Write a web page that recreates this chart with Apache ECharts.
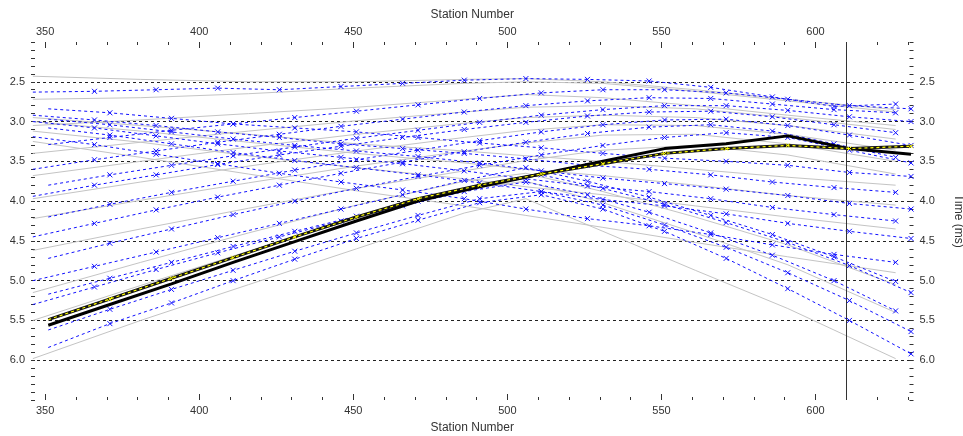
<!DOCTYPE html>
<html><head><meta charset="utf-8">
<script src="https://cdn.jsdelivr.net/npm/echarts@6/dist/echarts.min.js"></script>
<style>html,body{margin:0;padding:0;background:#fff}#c{width:963px;height:436px}</style>
</head><body><div id="c"></div>
<script>
// ---- axis values ----
const xMin = 345.4, xMax = 631.8;
const xMajorTicks = [350, 400, 450, 500, 550, 600];
const xMinorTicks = [350,360,370,380,390,400,410,420,430,440,450,460,470,480,490,500,510,520,530,540,550,560,570,580,590,600,610,620,630];
const yMin = 2.0, yMax = 6.5, yStep = 0.5;
const markerStation = 610;

// ---- station sets ----
const stationsA = [346,366,386,406,426,446,466,486,506,526,546,566,586,606,626];
const stationsB = [351,371,391,411,431,451,471,491,511,531,551,571,591,611,631];
const stationsG = [346,381,416,451,486,506,531,561,591,626];

// ---- picked (blue, dashed with x) times, ms ----
const blue01 = [2.63,2.62,2.60,2.58,2.60,2.56,2.52,2.48,2.46,2.47,2.49,2.57,2.69,2.81,2.78];
const blue02 = [3.29,3.20,3.11,3.03,2.95,2.87,2.79,2.71,2.64,2.60,2.60,2.64,2.72,2.80,2.84];
const blue03 = [3.60,3.48,3.37,3.26,3.16,3.06,2.97,2.88,2.80,2.74,2.70,2.71,2.78,2.85,2.89];
const blue04 = [3.80,3.67,3.55,3.43,3.32,3.21,3.11,3.01,2.92,2.85,2.80,2.80,2.86,2.94,3.00];
const blue05 = [3.94,3.80,3.67,3.54,3.42,3.31,3.20,3.10,3.01,2.93,2.88,2.87,2.94,3.04,3.14];
const blue06 = [4.20,4.04,3.89,3.75,3.61,3.48,3.36,3.24,3.13,3.04,2.98,2.97,3.05,3.17,3.30];
const blue07 = [4.45,4.28,4.11,3.95,3.80,3.65,3.51,3.38,3.26,3.15,3.07,3.04,3.12,3.28,3.45];
const blue08 = [4.72,4.53,4.35,4.17,4.00,3.84,3.69,3.55,3.42,3.30,3.20,3.14,3.20,3.36,3.52];
const blue09 = [2.84,2.89,2.96,3.03,3.08,3.13,3.20,3.27,3.33,3.40,3.46,3.50,3.55,3.64,3.69];
const blue10 = [2.92,2.98,3.05,3.13,3.20,3.28,3.34,3.40,3.47,3.55,3.60,3.67,3.76,3.83,3.89];
const blue11 = [2.97,3.04,3.13,3.22,3.30,3.37,3.44,3.52,3.62,3.71,3.78,3.85,3.93,4.03,4.10];
const blue12 = [3.00,3.08,3.18,3.28,3.37,3.45,3.53,3.62,3.72,3.81,3.88,3.97,4.08,4.17,4.25];
const blue13 = [3.08,3.17,3.28,3.39,3.49,3.58,3.67,3.77,3.88,3.98,4.06,4.16,4.28,4.38,4.47];
const blue14 = [3.19,3.29,3.41,3.53,3.65,3.76,3.86,3.97,4.10,4.22,4.31,4.42,4.55,4.67,4.77];
const blue15 = [5.00,4.82,4.64,4.46,4.28,4.10,3.92,3.74,3.58,3.75,3.95,4.18,4.42,4.70,5.01];
const blue16 = [5.17,4.97,4.77,4.57,4.38,4.19,4.00,3.82,3.67,3.84,4.04,4.27,4.52,4.81,5.15];
const blue17 = [5.30,5.08,4.86,4.65,4.45,4.25,4.06,3.88,3.76,3.92,4.14,4.40,4.68,5.00,5.38];
const blue18 = [5.62,5.36,5.11,4.87,4.63,4.40,4.18,3.97,3.88,4.05,4.30,4.58,4.90,5.25,5.64];
const blue19 = [5.84,5.54,5.28,5.00,4.73,4.47,4.24,4.02,3.92,4.10,4.38,4.72,5.10,5.50,5.92];

// ---- modelled (grey) times, ms ----
const grey01 = [2.43,2.47,2.50,2.50,2.47,2.46,2.50,2.60,2.72,2.85];
const grey02 = [2.72,2.70,2.65,2.58,2.52,2.50,2.52,2.62,2.74,2.88];
const grey03 = [3.05,2.98,2.90,2.82,2.72,2.66,2.70,2.80,2.92,3.05];
const grey04 = [3.40,3.26,3.12,2.99,2.88,2.82,2.80,2.84,2.95,3.10];
const grey05 = [3.68,3.50,3.32,3.16,3.02,2.95,2.92,2.95,3.05,3.22];
const grey06 = [3.97,3.76,3.56,3.37,3.20,3.11,3.04,3.05,3.16,3.36];
const grey07 = [4.22,3.99,3.77,3.56,3.37,3.27,3.17,3.16,3.28,3.50];
const grey08 = [4.62,4.35,4.09,3.84,3.62,3.49,3.36,3.30,3.42,3.66];
const grey09 = [2.95,3.05,3.16,3.28,3.37,3.43,3.50,3.60,3.70,3.80];
const grey10 = [3.00,3.12,3.26,3.40,3.52,3.60,3.68,3.80,3.93,4.05];
const grey11 = [3.12,3.26,3.43,3.58,3.72,3.82,3.92,4.06,4.20,4.35];
const grey12 = [3.25,3.45,3.66,3.87,4.06,4.18,4.33,4.52,4.70,4.90];
const grey13 = [5.15,4.77,4.40,4.05,3.75,3.65,3.88,4.20,4.55,5.05];
const grey14 = [5.50,5.06,4.63,4.22,3.85,3.75,4.02,4.40,4.80,5.40];
const grey15 = [5.98,5.50,5.05,4.60,4.15,3.97,4.38,4.87,5.35,5.98];

// ---- highlighted shot ----
const modelTimes = [5.56,5.30,5.04,4.77,4.51,4.25,4.00,3.82,3.66,3.50,3.34,3.28,3.18,3.34,3.41];
const pickTimes  = [5.49,5.23,4.97,4.71,4.45,4.20,3.97,3.80,3.66,3.53,3.40,3.34,3.30,3.34,3.31];

const blueLines = [
  [stationsA, blue01],[stationsB, blue02],[stationsA, blue03],[stationsB, blue04],[stationsA, blue05],
  [stationsB, blue06],[stationsA, blue07],[stationsB, blue08],[stationsB, blue09],[stationsA, blue10],
  [stationsB, blue11],[stationsA, blue12],[stationsB, blue13],[stationsA, blue14],[stationsA, blue15],
  [stationsB, blue16],[stationsA, blue17],[stationsB, blue18],[stationsB, blue19]
];
const greyLines = [grey01,grey02,grey03,grey04,grey05,grey06,grey07,grey08,grey09,grey10,grey11,grey12,grey13,grey14,grey15];

const X = 'path://M0,0L10,10M10,0L0,10';
const FONT = 'Liberation Sans';
const series = [];

greyLines.forEach(t => {
  series.push({
    type: 'line', silent: true, animation: false, symbol: 'none', z: 2,
    data: stationsG.map((s, i) => [s, t[i]]),
    lineStyle: { color: '#c4c4c4', width: 1 }
  });
});

blueLines.forEach(([st, t]) => {
  series.push({
    type: 'line', silent: true, animation: false, z: 3,
    symbol: X, symbolSize: 5,
    itemStyle: { color: 'transparent', borderColor: '#1010ff', borderWidth: 1 },
    data: st.map((s, i) => i === 0 ? { value: [s, t[i]], symbol: 'none' } : [s, t[i]]),
    lineStyle: { color: '#1010ff', width: 1, type: [3, 3] }
  });
});

series.push({
  type: 'line', silent: true, animation: false, symbol: 'none', z: 4,
  data: stationsB.map((s, i) => [s, modelTimes[i]]),
  lineStyle: { color: '#000', width: 3 }
});
series.push({
  type: 'line', silent: true, animation: false, symbol: 'none', z: 4,
  data: stationsB.map((s, i) => [s, pickTimes[i]]),
  lineStyle: { color: '#111', width: 3 }
});
series.push({
  type: 'line', silent: true, animation: false, z: 5,
  symbol: X, symbolSize: 4,
  itemStyle: { color: 'transparent', borderColor: '#ffff00', borderWidth: 1 },
  data: stationsB.map((s, i) => i === 0 ? { value: [s, pickTimes[i]], symbol: 'none' } : [s, pickTimes[i]]),
  lineStyle: { color: '#ffff00', width: 1.2, type: [3, 3] },
  markLine: {
    silent: true, symbol: 'none', animation: false,
    label: { show: false },
    lineStyle: { color: '#333', type: 'solid', width: 1 },
    data: [{ xAxis: markerStation }]
  }
});

function xAx(pos, ticks, len, withLabel) {
  return {
    type: 'value', position: pos, min: xMin, max: xMax,
    axisLine: { show: false },
    axisTick: { show: true, inside: true, length: len, customValues: ticks, lineStyle: { color: '#333' } },
    axisLabel: withLabel
      ? { show: true, customValues: ticks, margin: pos === 'top' ? 5 : 5, color: '#333', fontFamily: FONT, fontSize: 11 }
      : { show: false },
    splitLine: { show: false },
    name: withLabel ? 'Station Number' : '',
    nameLocation: 'middle', nameGap: pos === 'top' ? 18 : 22,
    nameTextStyle: { color: '#333', fontFamily: FONT, fontSize: 12 }
  };
}
function yAx(pos) {
  return {
    type: 'value', position: pos, inverse: true, min: yMin, max: yMax, interval: yStep,
    axisLine: { show: false },
    axisTick: { show: true, inside: true, length: 4, lineStyle: { color: '#333' } },
    minorTick: { show: true, splitNumber: 5, length: 4, lineStyle: { color: '#333' } },
    axisLabel: { showMinLabel: false, showMaxLabel: false, formatter: v => v.toFixed(1),
                 margin: 6, color: '#333', fontFamily: FONT, fontSize: 11 },
    splitLine: pos === 'left'
      ? { show: true, showMinLine: false, showMaxLine: false, lineStyle: { color: '#222', type: [3, 3], width: 1 } }
      : { show: false },
    name: pos === 'right' ? 'Time (ms)' : '',
    nameLocation: 'middle', nameRotate: -90, nameGap: 39,
    nameTextStyle: { color: '#333', fontFamily: FONT, fontSize: 12 }
  };
}

const chart = echarts.init(document.getElementById('c'), null, { renderer: 'canvas' });
chart.setOption({
  backgroundColor: '#fff',
  animation: false,
  grid: { left: 31, right: 49.5, top: 42, bottom: 36, containLabel: false, outerBoundsMode: 'none' },
  xAxis: [xAx('bottom', xMajorTicks, 6, true), xAx('bottom', xMinorTicks, 3, false),
          xAx('top', xMajorTicks, 6, true), xAx('top', xMinorTicks, 3, false)],
  yAxis: [yAx('left'), yAx('right')],
  series: series
});
</script></body></html>
